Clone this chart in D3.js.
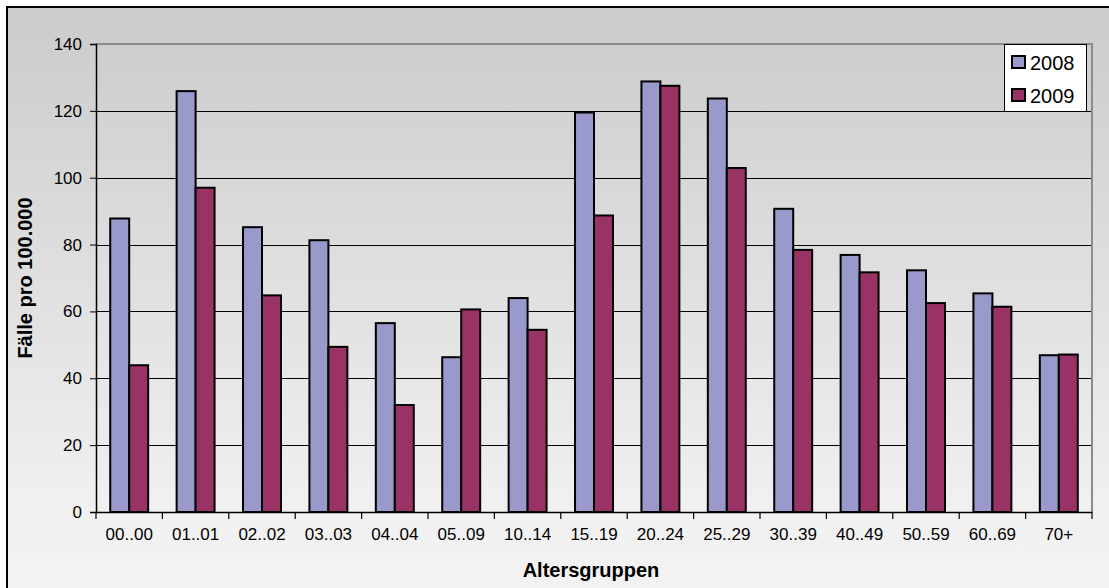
<!DOCTYPE html>
<html>
<head>
<meta charset="utf-8">
<script src="https://cdn.jsdelivr.net/npm/d3@7"></script>
<style>
html,body{margin:0;padding:0;background:#fff;}
svg{display:block;}
text{font-family:"Liberation Sans",Arial,sans-serif;fill:#000;}
</style>
</head>
<body>
<svg id="chart" width="1109" height="588"></svg>
<script>
const categories = ["00..00","01..01","02..02","03..03","04..04","05..09","10..14","15..19","20..24","25..29","30..39","40..49","50..59","60..69","70+"];
const seriesNames = ["2008","2009"];
const values2008 = [87.8,125.9,85.2,81.3,56.5,46.3,64.0,119.5,128.8,123.7,90.7,76.9,72.3,65.4,46.9];
const values2009 = [43.9,97.0,64.8,49.4,32.0,60.6,54.5,88.7,127.5,102.9,78.4,71.7,62.5,61.4,47.1];
const yTicks = [0,20,40,60,80,100,120,140];
const colors = ["#9999cc","#993366"];

const svg = d3.select("#chart");
const W = 1109, H = 588;
const plot = {left:96, right:1092, top:44, bottom:512};

const defs = svg.append("defs");
const grad = defs.append("linearGradient").attr("id","bg").attr("x1",0).attr("y1",0).attr("x2",0).attr("y2",1);
grad.append("stop").attr("offset","0%").attr("stop-color","#cbcbcb");
grad.append("stop").attr("offset","85%").attr("stop-color","#f1f1f1");
grad.append("stop").attr("offset","100%").attr("stop-color","#f2f2f2");

// chart area background + frame
svg.append("rect").attr("x",7).attr("y",7).attr("width",W+10).attr("height",H+10)
  .attr("fill","url(#bg)").attr("stroke","#000").attr("stroke-width",2);

const x0 = d3.scaleBand().domain(categories).range([plot.left, plot.right]).paddingInner(0).paddingOuter(0);
const x1 = d3.scaleBand().domain(seriesNames).range([0, x0.bandwidth()]).paddingInner(0).paddingOuter(0.75);
const y = d3.scaleLinear().domain([0,140]).range([plot.bottom, plot.top]);

// gridlines
svg.append("g").selectAll("line").data(yTicks.filter(t => t>0 && t<140)).join("line")
  .attr("x1",plot.left).attr("x2",plot.right)
  .attr("y1",d=>Math.round(y(d))+0.5).attr("y2",d=>Math.round(y(d))+0.5)
  .attr("stroke","#000").attr("stroke-width",1);

// plot border (top & right grey)
svg.append("path")
  .attr("d",`M${plot.left},${y(140)}H${plot.right}V${plot.bottom}`)
  .attr("fill","none").attr("stroke","#8c8c8c").attr("stroke-width",2);

// bars
const data = categories.map((c,i)=>({cat:c, vals:[values2008[i], values2009[i]]}));
const g = svg.append("g");
data.forEach(d=>{
  seriesNames.forEach((s,si)=>{
    g.append("rect")
      .attr("x", x0(d.cat)+x1(s))
      .attr("y", y(d.vals[si]))
      .attr("width", x1.bandwidth())
      .attr("height", y(0)-y(d.vals[si]))
      .attr("fill", colors[si])
      .attr("stroke","#000").attr("stroke-width",2);
  });
});

// y axis
const yAxis = d3.axisLeft(y).tickValues(yTicks).tickSize(6).tickPadding(8).tickFormat(d3.format("d"));
const ya = svg.append("g").attr("transform",`translate(${plot.left},0)`).call(yAxis);
ya.select(".domain").attr("stroke","#000").attr("stroke-width",1.5);
ya.selectAll(".tick line").attr("stroke","#000");
ya.selectAll("text").style("font-size","17px").attr("fill","#000");

// x axis
const xAxis = d3.axisBottom(x0).tickSize(0).tickPadding(16);
const xa = svg.append("g").attr("transform",`translate(0,${plot.bottom})`).call(xAxis);
xa.select(".domain").attr("stroke","#000").attr("stroke-width",1.5);
xa.selectAll("text").style("font-size","17px").attr("fill","#000");
// boundary ticks between categories
const bounds = categories.map(c=>x0(c)).concat([plot.right]);
xa.selectAll(".btick").data(bounds).join("line").attr("class","btick")
  .attr("x1",d=>d).attr("x2",d=>d).attr("y1",0).attr("y2",7)
  .attr("stroke","#000").attr("stroke-width",1.2);

// axis titles
svg.append("text").attr("x",(plot.left+plot.right)/2 - 3).attr("y",577)
  .attr("text-anchor","middle").style("font-size","20px").style("font-weight","bold").text("Altersgruppen");
svg.append("text").attr("transform",`translate(32,${(plot.top+plot.bottom)/2}) rotate(-90)`)
  .attr("text-anchor","middle").style("font-size","20px").style("font-weight","bold").text("Fälle pro 100.000");

// legend
const lg = svg.append("g");
lg.append("rect").attr("x",1004.5).attr("y",44.5).attr("width",82).attr("height",67)
  .attr("fill","#fff").attr("stroke","#000").attr("stroke-width",1);
seriesNames.forEach((s,i)=>{
  const yy = 56 + i*33;
  lg.append("rect").attr("x",1012).attr("y",yy).attr("width",13).attr("height",12)
    .attr("fill",colors[i]).attr("stroke","#000").attr("stroke-width",2);
  lg.append("text").attr("x",1030).attr("y",yy+13.5).style("font-size","20px").text(s);
});
</script>
</body>
</html>
